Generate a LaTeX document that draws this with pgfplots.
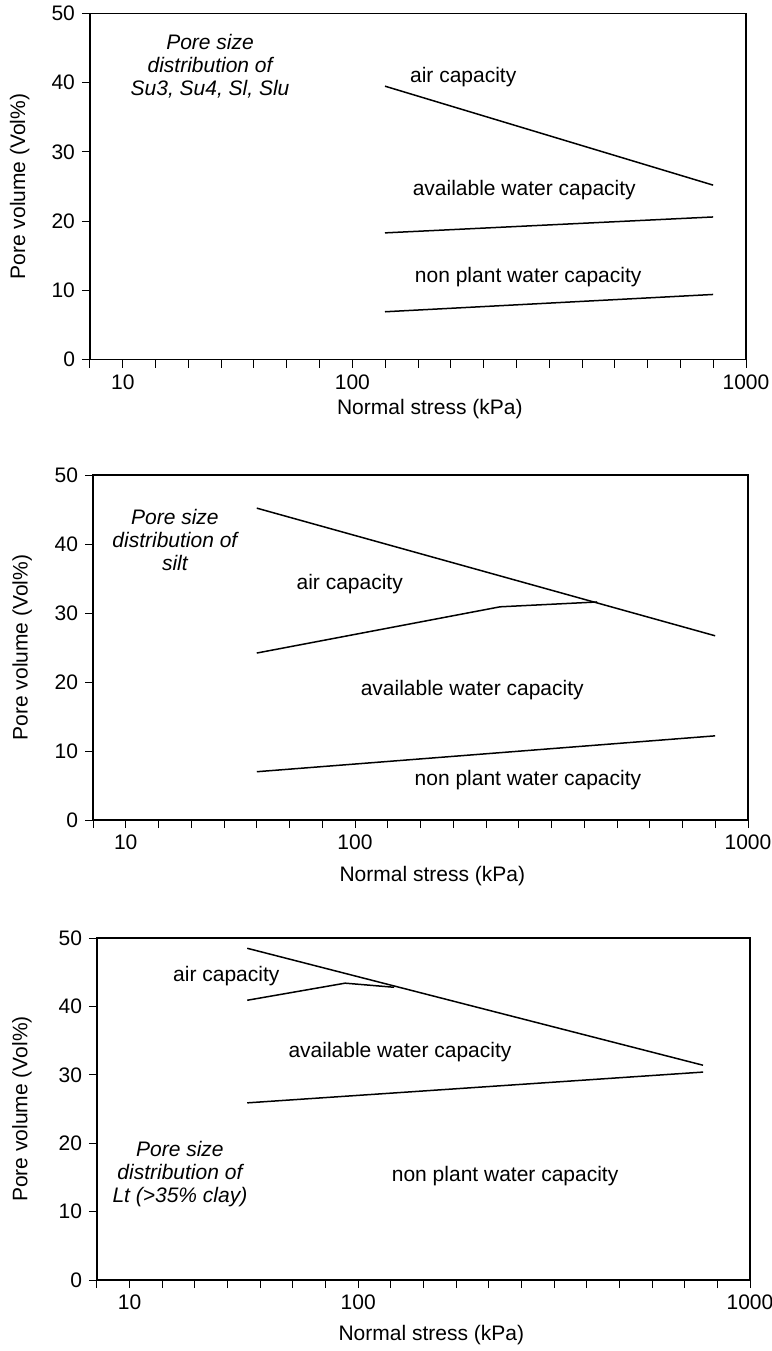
\documentclass[border=0pt]{standalone}
\usepackage{fontspec}
\setmainfont{Liberation Sans}
\usepackage{pgfplots}
\pgfplotsset{compat=1.18}

% x position in tick steps: 10 kPa at step 1, 100 kPa at step 8, 1000 kPa at step 20
\newcommand{\ux}{1+7*(min(ln(\thisrow{kPa})/ln(10),2)-1)+12*(max(ln(\thisrow{kPa})/ln(10),2)-2)}

\tikzset{
  txt/.style={font=\fontsize{10.5}{12.5}\selectfont, anchor=center},
  itxt/.style={font=\fontsize{10.5}{11.5}\selectfont\itshape, align=center, anchor=center},
}

\pgfplotsset{
  pore/.style={
    scale only axis,
    xmin=0, xmax=20, ymin=0, ymax=50,
    xtick={0,...,20},
    xticklabels={,10,,,,,,,100,,,,,,,,,,,,1000},
    ytick={0,10,...,50},
    tick pos=left, tick align=outside,
    major tick length=4pt,
    axis line style={line width=0.7pt},
    every tick/.style={black, line width=0.5pt},
    /pgf/number format/assume math mode=true,
    tick label style={font=\fontsize{10.5}{12}\selectfont},
    label style={font=\fontsize{10.5}{12}\selectfont},
    ylabel={Pore volume (Vol\%)},
    xlabel={Normal stress (kPa)},
    cycle list={{black, line width=0.75pt}},
    every axis plot post/.append style={black, line width=0.75pt, mark=none},
  },
}

\begin{document}
\begin{tikzpicture}
\useasboundingbox (0,0) rectangle (386pt,-675.5pt);

% ---- panel 1: Su3, Su4, Sl, Slu
\begin{axis}[pore, at={(45pt,-179.75pt)}, anchor=south west,
  width=328pt, height=173pt,
  ylabel style={at={(axis description cs:-0.107,0.5)}, anchor=center},
  xlabel style={at={(axis description cs:0.518,0)}, anchor=center, yshift=-25pt}]
\addplot table[x expr=\ux, y=vol] {
kPa vol
121 39.5
825 25.2
};
\addplot table[x expr=\ux, y=vol] {
kPa vol
121 18.3
825 20.6
};
\addplot table[x expr=\ux, y=vol] {
kPa vol
121 6.9
825 9.4
};
\node[itxt] at (rel axis cs:0.183,0.848) {Pore size\\distribution of\\Su3, Su4, Sl, Slu};
\node[txt] at (rel axis cs:0.569,0.816) {air capacity};
\node[txt] at (rel axis cs:0.662,0.49) {available water capacity};
\node[txt] at (rel axis cs:0.668,0.239) {non plant water capacity};
\end{axis}

% ---- panel 2: silt
\begin{axis}[pore, at={(46.5pt,-410pt)}, anchor=south west,
  width=327.5pt, height=172.5pt,
  ylabel style={at={(axis description cs:-0.108,0.5)}, anchor=center},
  xlabel style={at={(axis description cs:0.518,0)}, anchor=center, yshift=-28pt}]
\addplot table[x expr=\ux, y=vol] {
kPa vol
37.3 45.2
825 26.7
};
\addplot table[x expr=\ux, y=vol] {
kPa vol
37.3 24.2
234 30.9
413 31.6
};
\addplot table[x expr=\ux, y=vol] {
kPa vol
37.3 7.0
825 12.2
};
\node[itxt] at (rel axis cs:0.125,0.812) {Pore size\\distribution of\\silt};
\node[txt] at (rel axis cs:0.392,0.684) {air capacity};
\node[txt] at (rel axis cs:0.579,0.377) {available water capacity};
\node[txt] at (rel axis cs:0.664,0.116) {non plant water capacity};
\end{axis}

% ---- panel 3: Lt
\begin{axis}[pore, at={(48.5pt,-640pt)}, anchor=south west,
  width=326.5pt, height=171pt,
  ylabel style={at={(axis description cs:-0.115,0.5)}, anchor=center},
  xlabel style={at={(axis description cs:0.512,0)}, anchor=center, yshift=-27.5pt}]
\addplot table[x expr=\ux, y=vol] {
kPa vol
32.7 48.5
759 31.4
};
\addplot table[x expr=\ux, y=vol] {
kPa vol
32.7 40.9
87.7 43.4
123.5 42.8
};
\addplot table[x expr=\ux, y=vol] {
kPa vol
32.7 25.9
759 30.4
};
\node[itxt] at (rel axis cs:0.127,0.31) {Pore size\\distribution of\\Lt (>35\% clay)};
\node[txt] at (rel axis cs:0.198,0.889) {air capacity};
\node[txt] at (rel axis cs:0.464,0.667) {available water capacity};
\node[txt] at (rel axis cs:0.625,0.304) {non plant water capacity};
\end{axis}
\end{tikzpicture}
\end{document}
